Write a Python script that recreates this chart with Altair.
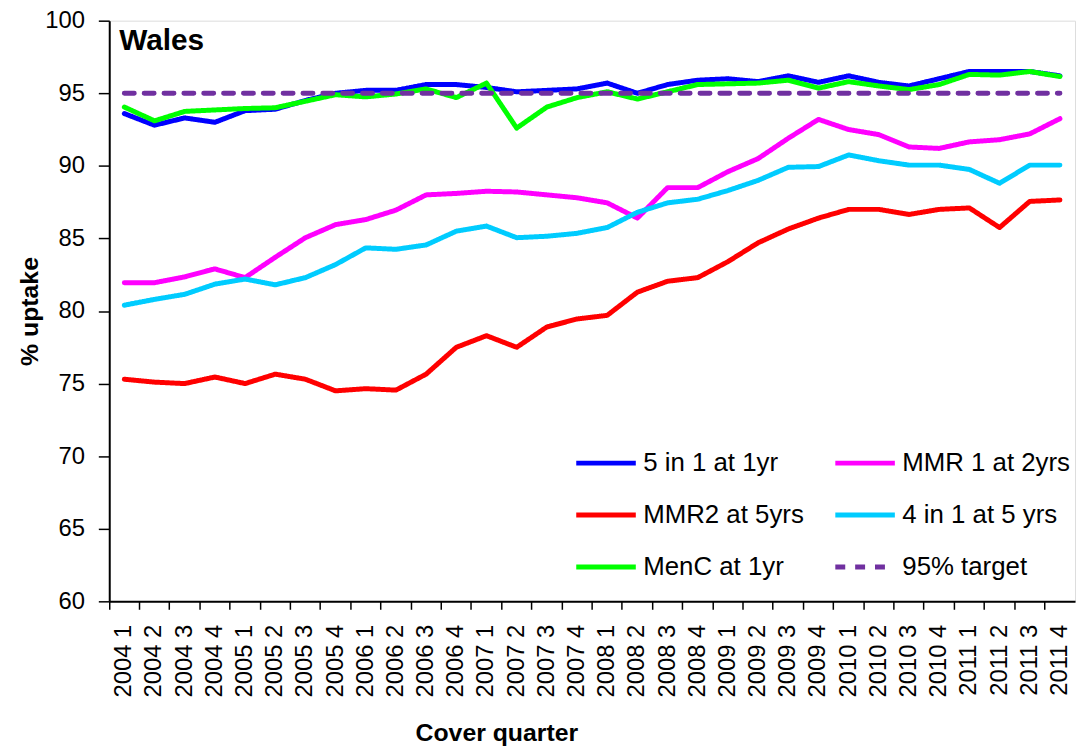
import altair as alt
import pandas as pd

quarters = [
    "2004 1", "2004 2", "2004 3", "2004 4",
    "2005 1", "2005 2", "2005 3", "2005 4",
    "2006 1", "2006 2", "2006 3", "2006 4",
    "2007 1", "2007 2", "2007 3", "2007 4",
    "2008 1", "2008 2", "2008 3", "2008 4",
    "2009 1", "2009 2", "2009 3", "2009 4",
    "2010 1", "2010 2", "2010 3", "2010 4",
    "2011 1", "2011 2", "2011 3", "2011 4",
]

five_in_one_1yr = [93.6, 92.8, 93.3, 93.0, 93.8, 93.9, 94.5, 95.0, 95.2, 95.2, 95.6, 95.6,
                   95.4, 95.1, 95.2, 95.3, 95.7, 95.0, 95.6, 95.9, 96.0, 95.8, 96.2, 95.75,
                   96.2, 95.75, 95.5, 96.0, 96.5, 96.5, 96.5, 96.2]
mmr1_2yrs = [81.95, 81.95, 82.35, 82.9, 82.3, 83.7, 85.05, 85.95, 86.3, 86.95, 88.0, 88.1,
             88.25, 88.2, 88.0, 87.8, 87.45, 86.4, 88.5, 88.5, 89.6, 90.5, 91.9, 93.2,
             92.5, 92.15, 91.3, 91.2, 91.65, 91.8, 92.2, 93.25]
mmr2_5yrs = [75.3, 75.1, 75.0, 75.45, 75.0, 75.65, 75.3, 74.5, 74.65, 74.55, 75.65, 77.5,
             78.3, 77.5, 78.9, 79.45, 79.7, 81.3, 82.05, 82.3, 83.4, 84.7, 85.65, 86.4,
             87.0, 87.0, 86.65, 87.0, 87.1, 85.75, 87.55, 87.65]
four_in_one_5yrs = [80.4, 80.8, 81.15, 81.85, 82.2, 81.8, 82.3, 83.2, 84.35, 84.25, 84.55, 85.5,
                    85.85, 85.05, 85.15, 85.35, 85.75, 86.8, 87.45, 87.7, 88.3, 89.0, 89.9, 89.95,
                    90.75, 90.35, 90.05, 90.05, 89.75, 88.8, 90.05, 90.05]
menc_1yr = [94.05, 93.1, 93.75, 93.85, 93.95, 94.0, 94.45, 94.9, 94.75, 94.95, 95.3, 94.7,
            95.7, 92.6, 94.05, 94.7, 95.1, 94.6, 95.1, 95.6, 95.65, 95.7, 95.9, 95.35,
            95.8, 95.5, 95.25, 95.6, 96.3, 96.25, 96.5, 96.15]
target_95 = [95.0] * 32

# drawing order (data order)
series_names = ["5 in 1 at 1yr", "MMR 1 at 2yrs", "MMR2 at 5yrs",
                "4 in 1 at 5 yrs", "MenC at 1yr", "95% target"]
series_values = [five_in_one_1yr, mmr1_2yrs, mmr2_5yrs, four_in_one_5yrs, menc_1yr, target_95]
series_colors = {"5 in 1 at 1yr": "#0000FF", "MMR 1 at 2yrs": "#FF00FF", "MMR2 at 5yrs": "#FF0000",
                 "4 in 1 at 5 yrs": "#00CCFF", "MenC at 1yr": "#00FF00", "95% target": "#7030A0"}
series_dashes = {"5 in 1 at 1yr": [1, 0], "MMR 1 at 2yrs": [1, 0], "MMR2 at 5yrs": [1, 0],
                 "4 in 1 at 5 yrs": [1, 0], "MenC at 1yr": [1, 0], "95% target": [10, 10]}
# legend order (filled column by column, two columns)
legend_order = ["5 in 1 at 1yr", "MMR2 at 5yrs", "MenC at 1yr",
                "MMR 1 at 2yrs", "4 in 1 at 5 yrs", "95% target"]

rows = []
for name, vals in zip(series_names, series_values):
    for q, v in zip(quarters, vals):
        rows.append({"series": name, "quarter": q, "value": v})
df = pd.DataFrame(rows)

W, H = 973, 585
FONT = "Liberation Sans, Arial, sans-serif"

legend_cfg = dict(
    orient="none", legendX=468, legendY=413, columns=2, title=None,
    symbolType="stroke", symbolSize=3600, symbolStrokeWidth=5,
    labelFont=FONT, labelFontSize=26, labelColor="black", labelOffset=5,
    columnPadding=21, rowPadding=6.5, padding=0, labelLimit=400,
)

chart = alt.Chart(df).mark_line(strokeWidth=5, strokeCap="round", strokeJoin="round").encode(
    x=alt.X(
        "quarter:O",
        sort=quarters,
        bandPosition=0.5,
        scale=alt.Scale(type="band", paddingInner=0, paddingOuter=0),
        axis=alt.Axis(
            title="Cover quarter",
            titleFont=FONT, titleFontSize=25, titleFontWeight="bold", titleColor="black",
            titleX=390, titleY=140, titleBaseline="alphabetic", titleAlign="center",
            labelAngle=270, labelFont=FONT, labelFontSize=24, labelColor="black",
            labelPadding=15, bandPosition=0,
            tickSize=8, tickColor="black", tickWidth=1.5,
            domainColor="black", domainWidth=2, grid=False, labelOverlap=False,
        ),
    ),
    y=alt.Y(
        "value:Q",
        scale=alt.Scale(domain=[60, 100], nice=False, zero=False),
        axis=alt.Axis(
            title="% uptake",
            titleFont=FONT, titleFontSize=25, titleFontWeight="bold", titleColor="black",
            titleX=-80, titleY=H / 2, titleBaseline="middle", titleAlign="center", titleAngle=270,
            values=[60, 65, 70, 75, 80, 85, 90, 95, 100],
            labelFont=FONT, labelFontSize=24, labelColor="black", labelPadding=14,
            tickSize=11, tickColor="black", tickWidth=1.5,
            domainColor="black", domainWidth=2, grid=False,
        ),
    ),
    color=alt.Color(
        "series:N",
        sort=legend_order,
        scale=alt.Scale(domain=legend_order, range=[series_colors[s] for s in legend_order]),
        legend=alt.Legend(**legend_cfg),
    ),
    strokeDash=alt.StrokeDash(
        "series:N",
        sort=legend_order,
        scale=alt.Scale(domain=legend_order, range=[series_dashes[s] for s in legend_order]),
        legend=alt.Legend(**legend_cfg),
    ),
).properties(
    width=W,
    height=H,
    title=alt.TitleParams(
        "Wales", anchor="start", frame="group", font=FONT, fontSize=30,
        fontWeight="bold", color="black", baseline="alphabetic", offset=0, dx=10, dy=72,
    ),
    autosize=alt.AutoSizeParams(type="none"),
    padding={"left": 102, "top": 10, "right": 2, "bottom": 146},
).configure_view(stroke=None).configure(background="white")

chart.save("out.html", embed_options={"renderer": "svg", "actions": False})
